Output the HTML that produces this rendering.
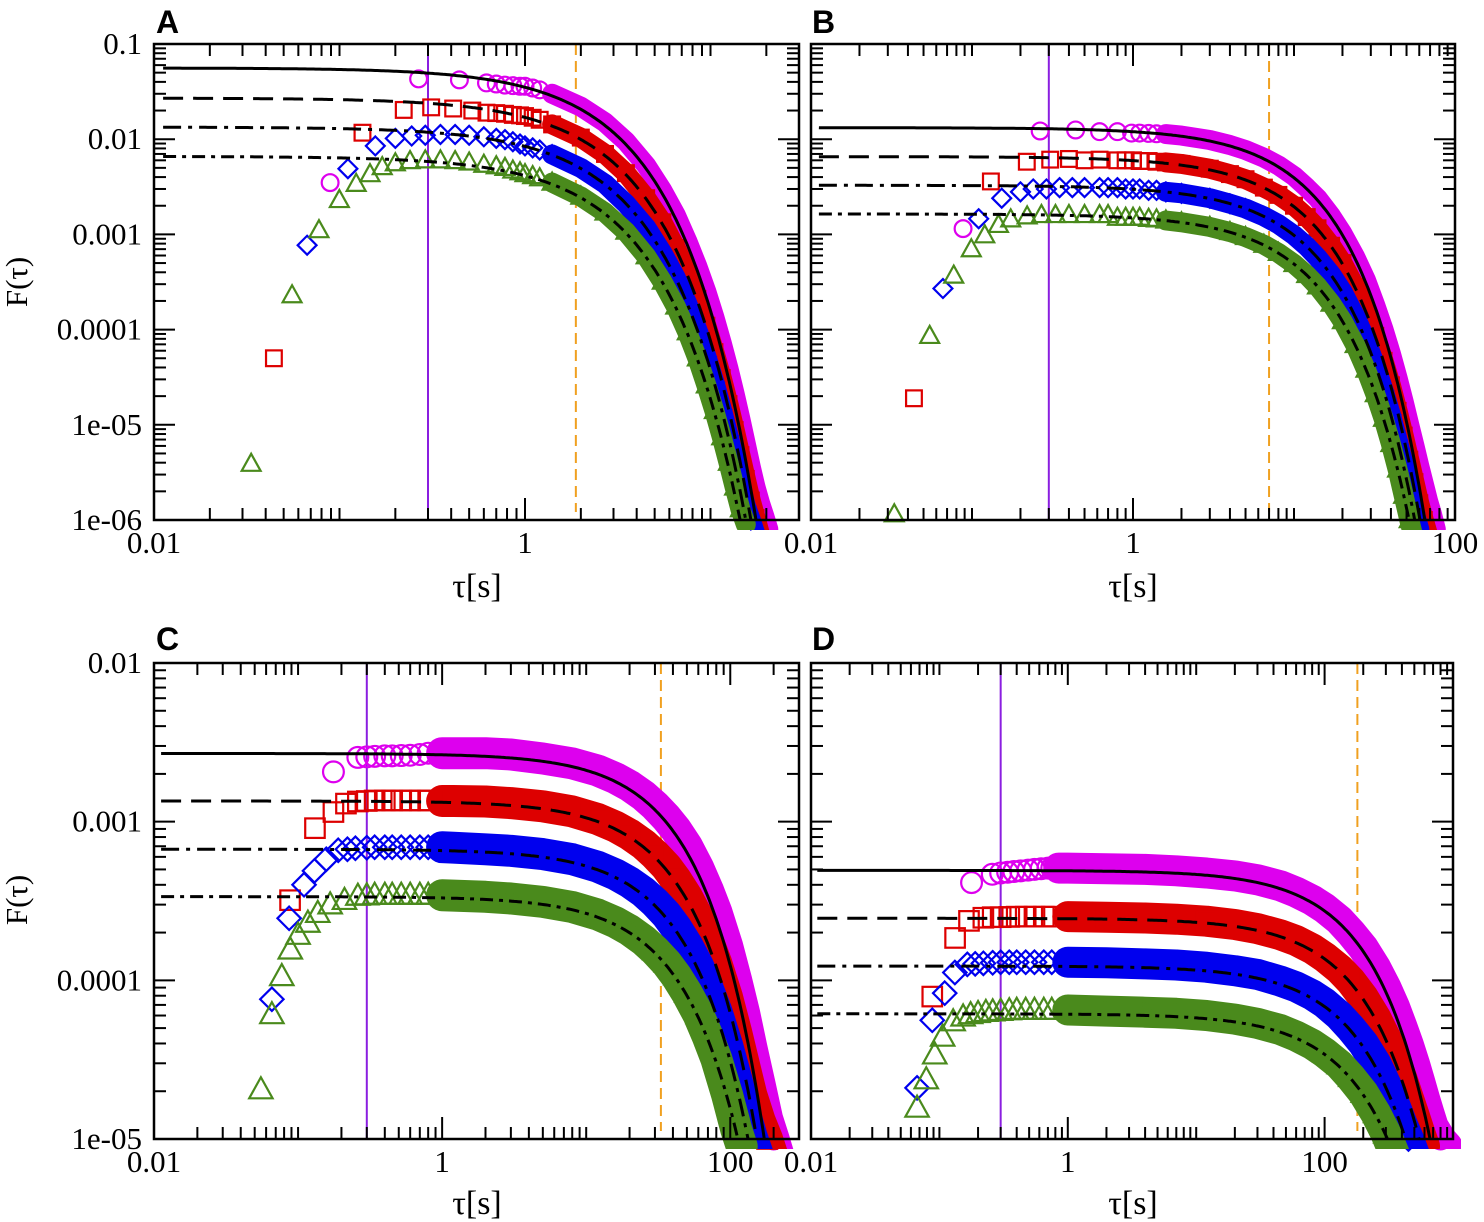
<!DOCTYPE html>
<html><head><meta charset="utf-8"><title>F(tau) panels</title>
<style>
html,body{margin:0;padding:0;background:#fff;}
svg{display:block;}
.tick{font-family:"Liberation Serif",serif;font-size:31px;fill:#000;}
.ttl{font-family:"Liberation Serif",serif;font-size:34px;fill:#000;}
.let{font-family:"Liberation Sans",sans-serif;font-size:32px;font-weight:bold;fill:#000;}
</style></head>
<body>
<svg id="fig" xmlns="http://www.w3.org/2000/svg" width="1484" height="1222" viewBox="0 0 1484 1222">
<rect x="0" y="0" width="1484" height="1222" fill="#fff"/>
<text class="let" x="156" y="33">A</text>
<text class="let" x="812" y="33">B</text>
<text class="let" x="156" y="650">C</text>
<text class="let" x="812" y="650">D</text>
<text class="ttl" x="477" y="597" text-anchor="middle">τ[s]</text>
<text class="ttl" x="1133" y="597" text-anchor="middle">τ[s]</text>
<text class="ttl" x="477" y="1214" text-anchor="middle">τ[s]</text>
<text class="ttl" x="1133" y="1214" text-anchor="middle">τ[s]</text>
<text class="tick" x="0" y="0" text-anchor="middle" transform="translate(27,282) rotate(-90)">F(τ)</text>
<text class="tick" x="0" y="0" text-anchor="middle" transform="translate(27,900) rotate(-90)">F(τ)</text>
</svg>
<script>
// ---------- data (tau [s], F) ----------
const A_magenta=[[0.089,0.0035],[0.267,0.043],[0.443,0.042],[0.62,0.039],[0.7,0.038],[0.78,0.037],[0.86,0.0365],[0.94,0.036],[1,0.036],[1.1,0.0345],[1.2,0.033],[1.4,0.030],[2,0.022],[2.7,0.0150],[3.5,0.0095],[4.5,0.0053],[5.5,0.0029],[6.5,0.0016],[7.5,8.5e-4],[8.5,4.6e-4],[9.5,2.5e-4],[10.5,1.35e-4],[11.5,7.2e-5],[12.5,3.9e-5],[13.5,2.1e-5],[14.5,1.15e-5],[15.5,6.3e-6],[16.5,3.6e-6],[17.5,2.2e-6],[18.5,1.5e-6],[19.5,1.1e-6],[20.5,8e-7]];
const A_red=[[0.0443,5e-5],[0.133,0.0117],[0.222,0.0203],[0.312,0.0216],[0.41,0.021],[0.52,0.020],[0.62,0.019],[0.7,0.0188],[0.78,0.0185],[0.86,0.018],[0.94,0.0178],[1,0.0175],[1.1,0.0168],[1.2,0.016],[1.4,0.0143],[2,0.0104],[2.7,0.0070],[3.5,0.0044],[4.5,0.0024],[5.5,0.00134],[6.5,7.2e-4],[7.5,3.9e-4],[8.5,2.1e-4],[9.5,1.1e-4],[10.5,5.8e-5],[11.5,3.1e-5],[12.5,1.65e-5],[13.5,8.8e-6],[14.5,4.8e-6],[15.5,2.7e-6],[16.5,1.6e-6],[17.5,1.05e-6],[18.5,7e-7]];
const A_blue=[[0.0669,7.7e-4],[0.111,0.0049],[0.156,0.0085],[0.2,0.0102],[0.245,0.0108],[0.29,0.011],[0.35,0.0112],[0.42,0.0112],[0.5,0.011],[0.6,0.0106],[0.7,0.0102],[0.78,0.0099],[0.86,0.0094],[0.94,0.0089],[1,0.0085],[1.1,0.0081],[1.2,0.0077],[1.4,0.0069],[2,0.0050],[2.7,0.0034],[3.5,0.0021],[4.5,0.00118],[5.5,6.4e-4],[6.5,3.5e-4],[7.5,1.87e-4],[8.5,9.9e-5],[9.5,5.2e-5],[10.5,2.8e-5],[11.5,1.45e-5],[12.5,7.7e-6],[13.5,4.1e-6],[14.5,2.3e-6],[15.5,1.4e-6],[16.5,1e-6],[17.5,7e-7]];
const A_green=[[0.0334,3.9e-6],[0.0555,2.3e-4],[0.0775,0.00111],[0.0998,0.0023],[0.123,0.0034],[0.146,0.0043],[0.17,0.0051],[0.2,0.0056],[0.24,0.0059],[0.29,0.0060],[0.35,0.0060],[0.42,0.0059],[0.5,0.0057],[0.6,0.0054],[0.7,0.0052],[0.78,0.0050],[0.86,0.0047],[0.94,0.0045],[1,0.0043],[1.1,0.0041],[1.2,0.0039],[1.4,0.0035],[2,0.0025],[2.7,0.0017],[3.5,0.00107],[4.5,5.9e-4],[5.5,3.2e-4],[6.5,1.75e-4],[7.5,9.4e-5],[8.5,5e-5],[9.5,2.6e-5],[10.5,1.4e-5],[11.5,7.4e-6],[12.5,4e-6],[13.5,2.2e-6],[14.5,1.3e-6],[15.5,9e-7]];
const A_fitAmp=[0.056,0.027,0.0134,0.0066];
const A_fitT=[2.0];
const A_fitBeta=[1.1];

const B_magenta=[[0.088,0.00115],[0.265,0.0122],[0.44,0.0125],[0.62,0.012],[0.8,0.012],[0.98,0.0116],[1.1,0.0116],[1.25,0.0115],[1.4,0.0114],[1.6,0.0113],[2,0.0109],[3,0.0098],[4,0.0087],[5,0.0077],[6.5,0.0064],[8,0.0053],[10,0.0041],[12,0.0031],[14,0.0024],[17,0.00156],[20,0.00102],[24,5.8e-4],[28,3.3e-4],[32,1.8e-4],[36,1.0e-4],[40,5.6e-5],[44,3.1e-5],[48,1.75e-5],[52,1.0e-5],[56,6e-6],[60,3.7e-6],[64,2.4e-6],[68,1.6e-6],[72,1.15e-6],[76,8e-7]];
const B_red=[[0.0436,1.9e-5],[0.131,0.0036],[0.219,0.0058],[0.306,0.0061],[0.4,0.0062],[0.5,0.0060],[0.62,0.0061],[0.8,0.0060],[0.9,0.0060],[1,0.0060],[1.1,0.0059],[1.25,0.0059],[1.4,0.0058],[1.6,0.0057],[2,0.0055],[3,0.0049],[4,0.0043],[5,0.0038],[6.5,0.0031],[8,0.0026],[10,0.0020],[12,0.00152],[14,0.00116],[17,7.6e-4],[20,5.0e-4],[24,2.8e-4],[28,1.56e-4],[32,8.6e-5],[36,4.7e-5],[40,2.6e-5],[44,1.4e-5],[48,7.7e-6],[52,4.3e-6],[56,2.5e-6],[60,1.5e-6],[64,1.0e-6],[68,7e-7]];
const B_blue=[[0.066,2.7e-4],[0.11,0.00146],[0.153,0.0024],[0.2,0.0028],[0.24,0.0030],[0.29,0.0030],[0.35,0.0031],[0.42,0.0031],[0.5,0.0031],[0.62,0.0031],[0.7,0.0031],[0.8,0.0031],[0.9,0.0030],[1,0.0030],[1.1,0.0030],[1.25,0.0029],[1.4,0.0029],[1.6,0.0028],[2,0.0027],[3,0.0024],[4,0.0021],[5,0.00187],[6.5,0.00155],[8,0.00128],[10,9.8e-4],[12,7.5e-4],[14,5.7e-4],[17,3.8e-4],[20,2.5e-4],[24,1.38e-4],[28,7.7e-5],[32,4.2e-5],[36,2.3e-5],[40,1.27e-5],[44,6.9e-6],[48,3.8e-6],[52,2.1e-6],[56,1.2e-6],[60,8e-7]];
const B_green=[[0.0329,1.15e-6],[0.0546,8.6e-5],[0.077,3.7e-4],[0.099,7e-4],[0.12,9.8e-4],[0.146,0.00126],[0.174,0.00144],[0.22,0.00155],[0.27,0.0016],[0.33,0.0016],[0.4,0.0016],[0.5,0.0016],[0.62,0.0016],[0.7,0.0016],[0.8,0.0015],[0.9,0.0015],[1,0.0015],[1.1,0.0015],[1.25,0.00146],[1.4,0.00144],[1.6,0.0014],[2,0.00134],[3,0.0012],[4,0.00106],[5,9.4e-4],[6.5,7.8e-4],[8,6.4e-4],[10,4.9e-4],[12,3.75e-4],[14,2.85e-4],[17,1.88e-4],[20,1.23e-4],[24,6.9e-5],[28,3.8e-5],[32,2.1e-5],[36,1.16e-5],[40,6.3e-6],[44,3.4e-6],[48,1.8e-6],[52,1.0e-6],[56,6e-7]];
const B_fitAmp=[0.0132,0.00656,0.00328,0.00164];
const B_fitT=[8.4];
const B_fitBeta=[1.1];

const C_magenta=[[0.176,0.00206],[0.26,0.00254],[0.3,0.00256],[0.34,0.00258],[0.4,0.0026],[0.45,0.0026],[0.52,0.00261],[0.6,0.00262],[0.7,0.00265],[0.8,0.0027],[1,0.0027],[1.2,0.0027],[2,0.0027],[3,0.00265],[5,0.0025],[8,0.00233],[12,0.0021],[16,0.00188],[20,0.00168],[25,0.00146],[30,0.00126],[36,0.00106],[42,8.9e-4],[50,7.0e-4],[60,5.1e-4],[70,3.7e-4],[80,2.7e-4],[95,1.65e-4],[110,1.0e-4],[125,6.2e-5],[140,3.8e-5],[160,2.2e-5],[180,1.35e-5],[200,1.0e-5],[215,8e-6]];
const C_red=[[0.088,3.2e-4],[0.131,9.1e-4],[0.176,0.00115],[0.215,0.0013],[0.26,0.00134],[0.3,0.00135],[0.34,0.00136],[0.4,0.00136],[0.45,0.00136],[0.52,0.00136],[0.6,0.00136],[0.7,0.00136],[0.8,0.00136],[1,0.00135],[1.2,0.00135],[2,0.00134],[3,0.00131],[5,0.00125],[8,0.00116],[12,0.00104],[16,9.3e-4],[20,8.3e-4],[25,7.2e-4],[30,6.2e-4],[36,5.2e-4],[42,4.3e-4],[50,3.35e-4],[60,2.45e-4],[70,1.77e-4],[80,1.28e-4],[95,7.8e-5],[110,4.7e-5],[125,2.9e-5],[140,1.9e-5],[160,1.3e-5],[180,1.0e-5],[195,8e-6]];
const C_blue=[[0.0658,7.6e-5],[0.0867,2.46e-4],[0.11,4.0e-4],[0.13,4.9e-4],[0.157,5.8e-4],[0.19,6.6e-4],[0.22,6.7e-4],[0.25,6.8e-4],[0.3,6.85e-4],[0.34,6.9e-4],[0.4,6.9e-4],[0.45,6.9e-4],[0.52,6.9e-4],[0.6,6.9e-4],[0.7,6.9e-4],[0.8,6.9e-4],[1,6.9e-4],[1.2,6.85e-4],[2,6.7e-4],[3,6.55e-4],[5,6.25e-4],[8,5.8e-4],[12,5.2e-4],[16,4.65e-4],[20,4.15e-4],[25,3.6e-4],[30,3.1e-4],[36,2.6e-4],[42,2.15e-4],[50,1.67e-4],[60,1.22e-4],[70,8.8e-5],[80,6.4e-5],[95,3.9e-5],[110,2.4e-5],[125,1.5e-5],[140,1.05e-5],[155,8e-6]];
const C_green=[[0.0552,2.05e-5],[0.0658,6.1e-5],[0.0771,1.06e-4],[0.0883,1.56e-4],[0.1,1.93e-4],[0.117,2.3e-4],[0.137,2.65e-4],[0.167,3.0e-4],[0.21,3.2e-4],[0.26,3.4e-4],[0.3,3.42e-4],[0.34,3.45e-4],[0.4,3.45e-4],[0.45,3.45e-4],[0.52,3.45e-4],[0.6,3.45e-4],[0.7,3.45e-4],[0.8,3.45e-4],[1,3.44e-4],[1.2,3.42e-4],[2,3.36e-4],[3,3.28e-4],[5,3.12e-4],[8,2.9e-4],[12,2.6e-4],[16,2.32e-4],[20,2.07e-4],[25,1.79e-4],[30,1.54e-4],[36,1.29e-4],[42,1.07e-4],[50,8.3e-5],[60,6.1e-5],[70,4.4e-5],[80,3.2e-5],[95,1.9e-5],[110,1.15e-5],[120,9e-6]];
const C_fitAmp=[0.00269,0.00135,6.7e-4,3.37e-4];
const C_fitT=[36];
const C_fitBeta=[1.1];

const D_magenta=[[0.178,4.13e-4],[0.258,4.66e-4],[0.3,4.75e-4],[0.34,4.8e-4],[0.38,4.85e-4],[0.43,4.9e-4],[0.49,4.95e-4],[0.55,5.0e-4],[0.62,5.05e-4],[0.7,5.1e-4],[0.75,5.1e-4],[0.85,5.1e-4],[1,5.1e-4],[2,5.05e-4],[4,5.0e-4],[7,4.9e-4],[12,4.75e-4],[20,4.55e-4],[30,4.3e-4],[45,3.95e-4],[60,3.6e-4],[80,3.2e-4],[100,2.85e-4],[130,2.4e-4],[160,2.0e-4],[200,1.6e-4],[250,1.2e-4],[300,9.0e-5],[350,6.8e-5],[400,5.1e-5],[450,3.9e-5],[500,3.0e-5],[550,2.3e-5],[600,1.8e-5],[650,1.45e-5],[700,1.2e-5],[800,1.0e-5],[900,9e-6]];
const D_red=[[0.088,7.9e-5],[0.1325,1.85e-4],[0.17,2.37e-4],[0.22,2.48e-4],[0.26,2.5e-4],[0.3,2.5e-4],[0.35,2.51e-4],[0.4,2.52e-4],[0.47,2.52e-4],[0.55,2.52e-4],[0.65,2.52e-4],[0.75,2.52e-4],[1,2.52e-4],[2,2.5e-4],[4,2.47e-4],[7,2.43e-4],[12,2.36e-4],[20,2.25e-4],[30,2.12e-4],[45,1.94e-4],[60,1.78e-4],[80,1.58e-4],[100,1.4e-4],[130,1.18e-4],[160,9.9e-5],[200,7.8e-5],[250,5.8e-5],[300,4.3e-5],[350,3.2e-5],[400,2.4e-5],[450,1.8e-5],[500,1.4e-5],[550,1.1e-5],[600,9e-6]];
const D_blue=[[0.067,2.1e-5],[0.088,5.6e-5],[0.11,8.3e-5],[0.132,1.12e-4],[0.165,1.26e-4],[0.19,1.27e-4],[0.22,1.28e-4],[0.26,1.29e-4],[0.3,1.3e-4],[0.35,1.3e-4],[0.4,1.3e-4],[0.47,1.3e-4],[0.55,1.3e-4],[0.65,1.3e-4],[0.75,1.3e-4],[1,1.3e-4],[2,1.29e-4],[4,1.27e-4],[7,1.25e-4],[12,1.21e-4],[20,1.15e-4],[30,1.09e-4],[45,9.9e-5],[60,9.1e-5],[80,8.1e-5],[100,7.2e-5],[130,6.0e-5],[160,5.0e-5],[200,4.0e-5],[250,3.0e-5],[300,2.2e-5],[350,1.65e-5],[400,1.25e-5],[450,1.0e-5],[500,8e-6]];
const D_green=[[0.067,1.57e-5],[0.079,2.37e-5],[0.092,3.4e-5],[0.106,4.4e-5],[0.128,5.5e-5],[0.153,5.9e-5],[0.175,6.1e-5],[0.2,6.2e-5],[0.23,6.3e-5],[0.26,6.35e-5],[0.3,6.4e-5],[0.35,6.45e-5],[0.4,6.5e-5],[0.47,6.5e-5],[0.55,6.5e-5],[0.65,6.5e-5],[0.75,6.5e-5],[1,6.5e-5],[2,6.4e-5],[4,6.3e-5],[7,6.2e-5],[12,6.0e-5],[20,5.7e-5],[30,5.35e-5],[45,4.9e-5],[60,4.45e-5],[80,3.95e-5],[100,3.5e-5],[130,2.95e-5],[160,2.45e-5],[200,1.95e-5],[250,1.45e-5],[300,1.08e-5],[350,8e-6]];
const D_fitAmp=[4.93e-4,2.46e-4,1.23e-4,6.15e-5];
const D_fitT=[170];
const D_fitBeta=[1.0];

// reference lines (tau values)
const A_vlines=[0.30,1.88];
const B_vlines=[0.30,7.0];
const C_vlines=[0.30,33];
const D_vlines=[0.30,180];

// tick labels
const xLabelsA=["0.01","1"];
const xLabelsBCD=["0.01","1","100"];
const yLabelsA=["1e-06","1e-05","0.0001","0.001","0.01","0.1"];
const yLabelsC=["1e-05","0.0001","0.001","0.01"];

// ---------- rendering ----------
const NS="http://www.w3.org/2000/svg";
const svg=document.getElementById('fig');
function mk(tag,attrs,parent){const e=document.createElementNS(NS,tag);for(const k in attrs)e.setAttribute(k,attrs[k]);(parent||svg).appendChild(e);return e;}

const COLORS=["#dd00ee","#dd0000","#0000ee","#4a8a1c"];
const SHAPES=["circle","square","diamond","triangle"];
const FIT_DASH=["none","20 10","18 7 4 7","13 6 4 6"];

const panels=[
 {id:"a",x0:154,x1:799,y0:44,y1:520,xmin:-2,xmax:Math.log10(30),ymin:-6,ymax:-1,
  series:[A_magenta,A_red,A_blue,A_green],amp:A_fitAmp,T:A_fitT[0],beta:A_fitBeta[0],vl:A_vlines,
  xl:xLabelsA,xlDec:[-2,0],yl:yLabelsA,ms:1.05,band:1.35,bw:20},
 {id:"b",x0:811,x1:1455,y0:44,y1:520,xmin:-2,xmax:2,ymin:-6,ymax:-1,
  series:[B_magenta,B_red,B_blue,B_green],amp:B_fitAmp,T:B_fitT[0],beta:B_fitBeta[0],vl:B_vlines,
  xl:xLabelsBCD,xlDec:[-2,0,2],yl:null,ms:1.05,band:1.5,bw:20},
 {id:"c",x0:154,x1:799,y0:663,y1:1139,xmin:-2,xmax:Math.log10(300),ymin:-5,ymax:-2,
  series:[C_magenta,C_red,C_blue,C_green],amp:C_fitAmp,T:C_fitT[0],beta:C_fitBeta[0],vl:C_vlines,
  xl:xLabelsBCD,xlDec:[-2,0,2],yl:yLabelsC,ms:1.3,band:0.9,bw:32},
 {id:"d",x0:811,x1:1453,y0:663,y1:1139,xmin:-2,xmax:3,ymin:-5,ymax:-2,
  series:[D_magenta,D_red,D_blue,D_green],amp:D_fitAmp,T:D_fitT[0],beta:D_fitBeta[0],vl:D_vlines,
  xl:xLabelsBCD,xlDec:[-2,0,2],yl:null,ms:1.3,band:0.8,bw:31}
];

function X(p,t){return p.x0+(Math.log10(t)-p.xmin)/(p.xmax-p.xmin)*(p.x1-p.x0);}
function Y(p,f){return p.y1-(Math.log10(f)-p.ymin)/(p.ymax-p.ymin)*(p.y1-p.y0);}

function marker(g,shape,x,y,s,col){
  let e;
  if(shape==="circle"){e=mk('circle',{cx:x,cy:y,r:8*s,fill:'none',stroke:col,'stroke-width':2.2},g);}
  else if(shape==="square"){const h=7.5*s;e=mk('rect',{x:x-h,y:y-h,width:2*h,height:2*h,fill:'none',stroke:col,'stroke-width':2.2},g);}
  else if(shape==="diamond"){const h=9*s;e=mk('polygon',{points:`${x},${y-h} ${x+h},${y} ${x},${y+h} ${x-h},${y}`,fill:'none',stroke:col,'stroke-width':2.2},g);}
  else {const h=9*s;e=mk('polygon',{points:`${x},${y-h*1.05} ${x+h},${y+h*0.75} ${x-h},${y+h*0.75}`,fill:'none',stroke:col,'stroke-width':2.2},g);}
  return e;
}

panels.forEach(p=>{
  const g=mk('g',{});
  
  
  const cp=mk('clipPath',{id:'clip-'+p.id},g);
  mk('rect',{x:p.x0,y:p.y0,width:p.x1-p.x0,height:p.y1-p.y0},cp);
  const cpb=mk('clipPath',{id:'clipb-'+p.id},g);
  mk('rect',{x:p.x0,y:p.y0,width:p.x1-p.x0+8,height:p.y1-p.y0+10},cpb);

  const v1=mk('line',{x1:X(p,p.vl[0]),x2:X(p,p.vl[0]),y1:p.y0,y2:p.y1,stroke:'#8a1ee0','stroke-width':2},g);
  
  
  const v2=mk('line',{x1:X(p,p.vl[1]),x2:X(p,p.vl[1]),y1:p.y0,y2:p.y1-8,stroke:'#f0a020','stroke-width':2,'stroke-dasharray':'11 6'},g);
  
  

  p.series.forEach((data,si)=>{
    const sg=mk('g',{},g);
    
    
    const col=COLORS[si];
    const bandPts=data.filter(d=>d[0]>=p.band).map(d=>X(p,d[0]).toFixed(1)+','+Y(p,d[1]).toFixed(1));
    if(bandPts.length>1){
      const band=mk('polyline',{points:bandPts.join(' '),fill:'none',stroke:col,'stroke-width':p.bw,'stroke-linejoin':'round','stroke-linecap':'round','clip-path':`url(#clipb-${p.id})`},sg);
      
      
    }
    data.forEach(d=>{
      if(Math.log10(d[1])<p.ymin-0.02||Math.log10(d[0])>p.xmax)return;
      const m=marker(sg,SHAPES[si],X(p,d[0]),Y(p,d[1]),p.ms,col);
      
      
    });
  });

  p.amp.forEach((a,i)=>{
    const pts=[];
    const lo=Math.log10(0.0112), hi=p.xmax;
    for(let k=0;k<=300;k++){
      const lt=lo+(hi-lo)*k/300, t=Math.pow(10,lt);
      const f=a*Math.exp(-Math.pow(t/p.T,p.beta));
      const lf=Math.max(Math.log10(Math.max(f,1e-30)),p.ymin-0.3);
      pts.push(X(p,t).toFixed(1)+','+Y(p,Math.pow(10,lf)).toFixed(1));
      if(lf<=p.ymin-0.3)break;
    }
    const fl=mk('polyline',{points:pts.join(' '),fill:'none',stroke:'#000','stroke-width':3,'stroke-dasharray':FIT_DASH[i],'clip-path':`url(#clip-${p.id})`},g);
    
    
  });

  const tg=mk('g',{stroke:'#000','stroke-width':2},g);
  
  
  for(let d=Math.floor(p.xmin);d<=Math.ceil(p.xmax);d++){
    for(let m=1;m<=9;m++){
      const lt=d+Math.log10(m);
      if(lt<p.xmin-1e-6||lt>p.xmax+1e-6)continue;
      const x=X(p,Math.pow(10,lt));
      const major=(m===1&&p.xlDec.indexOf(d)>=0);
      const L=major?22:12;
      mk('line',{x1:x,x2:x,y1:p.y1,y2:p.y1-L},tg);
      mk('line',{x1:x,x2:x,y1:p.y0,y2:p.y0+L},tg);
    }
  }
  for(let d=p.ymin;d<=p.ymax;d++){
    for(let m=1;m<=9;m++){
      const lf=d+Math.log10(m);
      if(lf>p.ymax+1e-6)continue;
      const y=Y(p,Math.pow(10,lf));
      const L=(m===1)?21:12;
      mk('line',{x1:p.x0,x2:p.x0+L,y1:y,y2:y},tg);
      mk('line',{x1:p.x1,x2:p.x1-L,y1:y,y2:y},tg);
    }
  }
  const fr=mk('rect',{x:p.x0,y:p.y0,width:p.x1-p.x0,height:p.y1-p.y0,fill:'none',stroke:'#000','stroke-width':2.5},g);
  
  

  p.xl.forEach((lab,i)=>{
    const t=mk('text',{x:X(p,Math.pow(10,p.xlDec[i])),y:p.y1+33,'text-anchor':'middle',class:'tick'},g);
    t.textContent=lab;
    
    
  });
  if(p.yl){
    p.yl.forEach((lab,i)=>{
      const t=mk('text',{x:p.x0-12,y:Y(p,Math.pow(10,p.ymin+i))+10,'text-anchor':'end',class:'tick'},g);
      t.textContent=lab;
      
      
    });
  }
});
</script>
</body></html>
